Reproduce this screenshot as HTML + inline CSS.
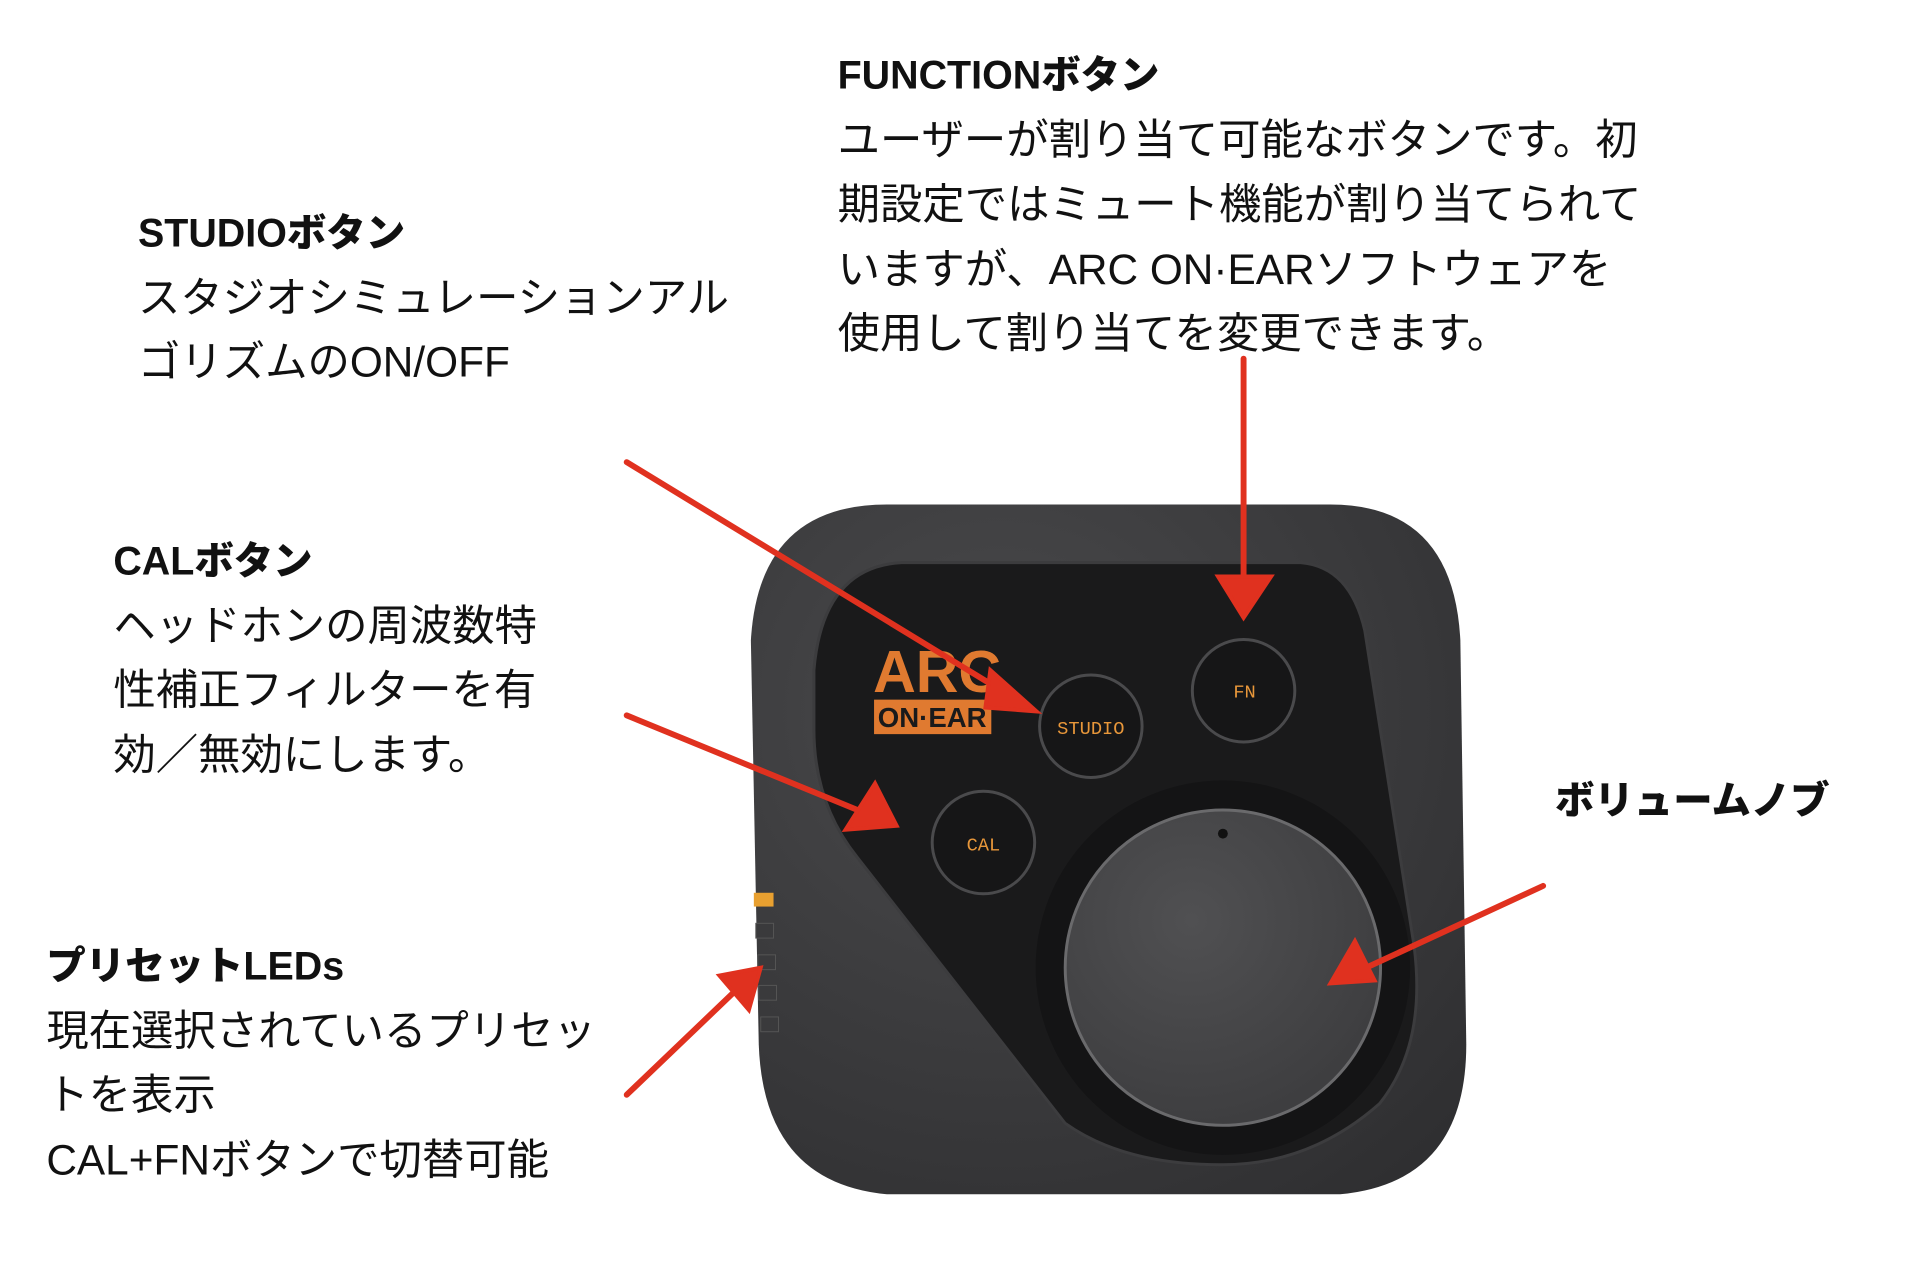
<!DOCTYPE html>
<html><head><meta charset="utf-8"><style>
html,body{margin:0;padding:0;background:#fff;}
body{width:1908px;height:1286px;overflow:hidden;position:relative;font-family:"Liberation Sans","Noto Sans CJK JP",sans-serif;color:#111;}
#w{position:absolute;left:0;top:0;width:1936px;height:1305px;transform:scale(0.9854);transform-origin:0 0;}
.t{position:absolute;font-size:43px;line-height:65.5px;white-space:nowrap;}
.t b{font-size:40px;font-weight:900;}
</style></head><body><div id="w">
<svg width="1936" height="1305" style="position:absolute;left:0;top:0">
<defs>
<radialGradient id="body" cx="0.35" cy="0.3" r="0.9">
<stop offset="0" stop-color="#4a4a4c"/><stop offset="1" stop-color="#2e2e30"/></radialGradient>
<radialGradient id="knob" cx="0.4" cy="0.35" r="0.8">
<stop offset="0" stop-color="#505052"/><stop offset="1" stop-color="#3a3a3c"/></radialGradient>
</defs>
<path d="M900 512 L1350 512 Q1475 512 1482 650 L1488 1060 Q1488 1200 1360 1212 L900 1212 Q775 1200 770 1060 L762 650 Q770 512 900 512 Z" fill="url(#body)"/>
<path d="M915 571 L1320 571 Q1370 575 1385 640 L1435 960 Q1448 1060 1400 1120 Q1330 1182 1240 1182 Q1140 1182 1081 1140 L870 870 Q826 815 826 740 L826 680 Q835 575 915 571 Z" fill="#1a1a1b" stroke="#3c3c3e" stroke-width="3"/>
<circle cx="1241" cy="982" r="190" fill="#141415"/>
<circle cx="1241" cy="982" r="160" fill="url(#knob)" stroke="#6a6a6c" stroke-width="3"/>
<circle cx="1241" cy="846" r="5" fill="#111"/>
<g font-family="Liberation Mono, monospace" font-size="19" fill="#e8973a" text-anchor="middle">
<circle cx="1262" cy="701" r="52" fill="#161617" stroke="#4a4a4c" stroke-width="3"/>
<text x="1263" y="708">FN</text>
<circle cx="1107" cy="737" r="52" fill="#161617" stroke="#4a4a4c" stroke-width="3"/>
<text x="1107" y="745">STUDIO</text>
<circle cx="998" cy="855" r="52" fill="#161617" stroke="#4a4a4c" stroke-width="3"/>
<text x="998" y="863">CAL</text>
</g>
<text x="886" y="702" font-family="Liberation Sans, sans-serif" font-weight="bold" font-size="60" fill="#e07a30">ARC</text>
<rect x="887" y="710" width="119" height="35" fill="#e07a30"/>
<text x="946" y="738" text-anchor="middle" font-family="Liberation Sans, sans-serif" font-weight="bold" font-size="28" fill="#1a1a1b">ON·EAR</text>
<rect x="765" y="906" width="20" height="14" fill="#e8a030"/>
<g fill="#3a3a3c" stroke="#555" stroke-width="1">
<rect x="767" y="937" width="18" height="15"/><rect x="769" y="969" width="18" height="15"/>
<rect x="770" y="1000" width="18" height="15"/><rect x="772" y="1032" width="18" height="15"/></g>
<g stroke="#e0311f" stroke-width="6" stroke-linecap="round" fill="#e0311f">
<line x1="636" y1="469" x2="1020" y2="703"/>
<polygon points="1052,722 1005,680 1000,718" stroke-width="4"/>
<line x1="636" y1="726" x2="880" y2="826"/>
<polygon points="910,838 888,795 858,842" stroke-width="4"/>
<line x1="1262" y1="364" x2="1262" y2="595"/>
<polygon points="1262,627 1236,585 1290,585" stroke-width="4"/>
<line x1="1566" y1="899" x2="1380" y2="985"/>
<polygon points="1350,998 1375,955 1395,995" stroke-width="4"/>
<line x1="636" y1="1111" x2="752" y2="1000"/>
<polygon points="772,982 730,990 760,1025" stroke-width="4"/>
</g>
</svg>
<div class="t" style="left:850px;top:44px"><b>FUNCTIONボタン</b><br>ユーザーが割り当て可能なボタンです。初<br>期設定ではミュート機能が割り当てられて<br>いますが、ARC ON·EARソフトウェアを<br>使用して割り当てを変更できます。</div>
<div class="t" style="left:140px;top:204px"><b>STUDIOボタン</b><br>スタジオシミュレーションアル<br>ゴリズムのON/OFF</div>
<div class="t" style="left:115px;top:537px"><b>CALボタン</b><br>ヘッドホンの周波数特<br>性補正フィルターを有<br>効／無効にします。</div>
<div class="t" style="left:47px;top:948px"><b>プリセットLEDs</b><br>現在選択されているプリセッ<br>トを表示<br>CAL+FNボタンで切替可能</div>
<div class="t" style="left:1578px;top:780px"><b>ボリュームノブ</b></div>
</div></body></html>
